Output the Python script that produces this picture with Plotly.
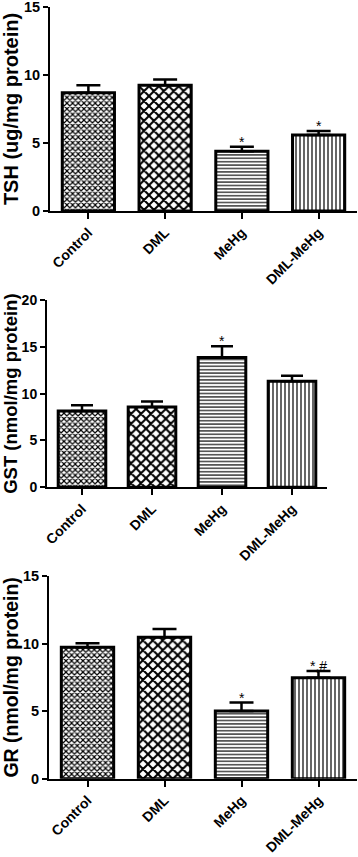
import plotly.graph_objects as go

categories = ["Control", "DML", "MeHg", "DML-MeHg"]

tsh_mean = [8.7, 9.25, 4.4, 5.58]
tsh_err = [0.55, 0.42, 0.32, 0.3]
tsh_sig = ["", "", "*", "*"]

gst_mean = [8.15, 8.57, 13.87, 11.32]
gst_err = [0.62, 0.58, 1.2, 0.6]
gst_sig = ["", "", "*", ""]

gr_mean = [9.73, 10.47, 5.01, 7.47]
gr_err = [0.3, 0.6, 0.62, 0.5]
gr_sig = ["", "", "*", "*,#"]

shapes = ["x", "x", "-", "|"]
psizes = [4, 7, 3.4, 4]
psolid = [0.5, 0.5, 0.33, 0.3]

W, H = 358, 857
FONT = "Arial, Liberation Sans, sans-serif"

panels = [
    dict(mean=tsh_mean, err=tsh_err, sig=tsh_sig, title="TSH (ug/mg protein)",
         xpx=(50, 357), ypx=(7, 211), yr=[0, 15], dt=5, tf=14, yf=14.5, titf=20, cap=12),
    dict(mean=gst_mean, err=gst_err, sig=gst_sig, title="GST (nmol/mg protein)",
         xpx=(47, 327), ypx=(300, 487.3), yr=[0, 20], dt=5, tf=14, yf=14, titf=18.5, cap=11),
    dict(mean=gr_mean, err=gr_err, sig=gr_sig, title="GR (nmol/mg protein)",
         xpx=(49, 357), ypx=(576, 778.7), yr=[0, 15], dt=5, tf=14, yf=14.5, titf=19.5, cap=12),
]

fig = go.Figure()
annotations = []
for i, p in enumerate(panels, start=1):
    sfx = "" if i == 1 else str(i)
    fig.add_trace(go.Bar(
        x=categories, y=p["mean"], xaxis="x" + sfx, yaxis="y" + sfx,
        width=0.68,
        marker=dict(color="white", line=dict(color="black", width=3),
                    pattern=dict(shape=shapes, size=psizes, solidity=psolid,
                                 fgcolor="black", bgcolor="white", fillmode="replace")),
        error_y=dict(type="data", array=p["err"], arrayminus=[0] * 4, symmetric=False,
                     color="black", thickness=2.5, width=p["cap"]),
        showlegend=False, hoverinfo="skip",
    ))
    for c, m, e, s in zip(categories, p["mean"], p["err"], p["sig"]):
        if s:
            annotations.append(dict(x=c, y=m + e, xref="x" + sfx, yref="y" + sfx,
                                    text=s, showarrow=False, yanchor="bottom", yshift=-5,
                                    font=dict(family=FONT, size=14, color="black")))
    xd = [p["xpx"][0] / W, p["xpx"][1] / W]
    yd = [1 - p["ypx"][1] / H, 1 - p["ypx"][0] / H]
    fig.update_layout(**{
        "xaxis" + sfx: dict(domain=xd, anchor="y" + sfx, range=[-0.5, 3.5],
                            showline=True, linecolor="black", linewidth=2,
                            ticks="outside", ticklen=6, tickwidth=2, tickcolor="black",
                            tickangle=-45, showgrid=False, zeroline=False, automargin=False,
                            tickfont=dict(family=FONT, size=p["tf"], color="black", weight="bold")),
        "yaxis" + sfx: dict(domain=yd, anchor="x" + sfx, range=p["yr"], dtick=p["dt"],
                            showline=True, linecolor="black", linewidth=2,
                            ticks="outside", ticklen=5, tickwidth=2, tickcolor="black",
                            showgrid=False, zeroline=False, automargin=False,
                            ticklabeloverflow="allow",
                            tickfont=dict(family=FONT, size=p["yf"], color="black", weight="bold"),
                            title=dict(text=p["title"], standoff=3,
                                       font=dict(family=FONT, size=p["titf"], color="black",
                                                 weight="bold"))),
    })

fig.update_layout(width=W, height=H, margin=dict(l=0, r=0, t=0, b=0),
                  paper_bgcolor="white", plot_bgcolor="white",
                  bargap=0.32, annotations=annotations)
fig.write_html("out.html", config={"displayModeBar": False},
               post_script="document.body.style.margin='0';"
                           "document.documentElement.style.overflow='hidden';")
